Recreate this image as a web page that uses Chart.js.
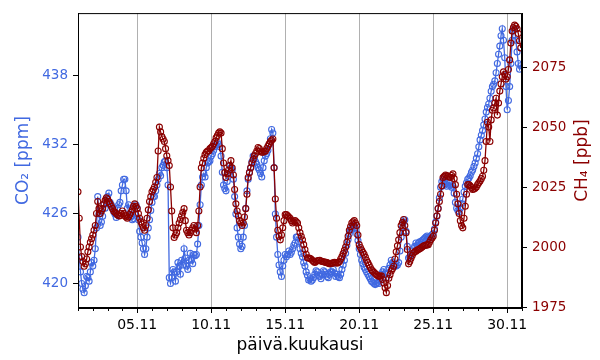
<!DOCTYPE html>
<html>
<head>
<meta charset="utf-8">
<script src="https://cdn.jsdelivr.net/npm/chart.js@4.4.1/dist/chart.umd.min.js"></script>
<style>
  body { margin: 0; background: #fff; }
</style>
</head>
<body>
<canvas id="gasChart" width="600" height="360"></canvas>
<script>
// Measurements every 2 hours, starting 01.11 00:00 (x in days of November)
const startDay = 1;
const stepHours = 2;

// CO2 [ppm]
const co2 = [
  424, 422.2, 421, 420, 419.5, 419.2, 419.8, 420.6, 420.5, 420.2,
  421, 421.8, 421.5, 422, 423, 424.8, 427.5, 426, 425, 425.3,
  425.8, 426.8, 426.5, 427, 427.5, 427.8, 427, 426.8, 426.5, 426.2,
  426, 425.7, 426.5, 426.8, 427, 428, 428.5, 429, 429, 428,
  426.5, 426.8, 426, 425.8, 425.5, 425.6, 426, 426.8, 426.5, 425.5,
  424.5, 424, 423.5, 423, 422.5, 423, 424, 424.8, 425.5, 426.3,
  427, 427.5, 427.5, 428, 428.5, 429, 429.5, 429.3, 430, 430.2,
  430.5, 430.6, 430, 428.5, 420.5, 420, 420.5, 421.2, 421, 420.2,
  421, 421.8, 421.5, 420.8, 422, 421.6, 423, 422.2, 421.5, 421.2,
  422, 422.6, 422, 421.7, 422.5, 422.4, 422.5, 423.4, 425, 426.8,
  428.5, 429.2, 429.5, 429.2, 430, 430.4, 430.5, 430.6, 431, 431.2,
  431.5, 431.8, 432, 432.2, 432, 431.8, 431, 429.6, 428.5, 428.2,
  428, 428.8, 429.5, 430.2, 430, 429.8, 429, 427.5, 426, 424.8,
  424, 423.4, 423, 423.2, 424, 425, 426.5, 428, 429, 429.6,
  430, 430.5, 431, 430.8, 430.5, 430.3, 430, 429.8, 429.5, 429.2,
  430, 430.6, 431, 431.2, 431.5, 432, 432.5, 433.3, 433, 430,
  426, 424, 422.5, 421.6, 421, 420.6, 421.5, 422, 422.5, 422.3,
  422.5, 422.8, 422.5, 422.7, 423, 423.3, 423.5, 424, 424, 423.6,
  423, 422.6, 422.3, 421.8, 421.5, 421, 420.7, 420.3, 420.4, 420.2,
  420.3, 420.5, 420.8, 421.1, 421, 420.7, 420.6, 420.4, 420.8, 421.1,
  421, 420.8, 420.6, 420.5, 420.8, 421, 421, 421.2, 420.9, 420.6,
  420.8, 420.6, 420.5, 420.8, 421.2, 421.6, 422, 422.6, 423.3, 423.8,
  424.3, 424.6, 424.8, 425, 425, 424.8, 424.3, 423.7, 423, 422.5,
  422, 421.7, 421.4, 421.2, 421, 420.8, 420.6, 420.4, 420.2, 420.1,
  420, 419.9, 420, 420.1, 420, 420.4, 420.8, 421, 421.2, 420.8,
  420.5, 420.9, 421.3, 421.6, 422, 421.8, 421.6, 421.5, 421.5, 421.6,
  421.8, 422.8, 424, 424.8, 425.3, 425.5, 424.5, 423.2, 422.2, 422.3,
  422.5, 422.8, 423, 423.2, 423.5, 423.3, 423.5, 423.6, 423.6, 423.7,
  423.8, 423.9, 424, 424.1, 424, 423.9, 424, 424.2, 424.3, 424.7,
  425.3, 425.8, 426.5, 427.4, 428.3, 428.8, 429, 428.8, 428.6, 428.4,
  428.5, 428.7, 428.5, 428.3, 428.4, 427.8, 427, 426.5, 426.3, 426.2,
  426.5, 426.9, 427.3, 427.9, 428.4, 428.7, 429, 429.1, 429.3, 429.6,
  429.8, 430.1, 430.4, 430.8, 431.2, 431.8, 432.4, 432.8, 433.2, 433.7,
  434.2, 434.8, 435.2, 435.5, 436, 436.6, 437, 437.2, 437.5, 438.2,
  439, 439.8, 440.5, 441.4, 442, 441, 439.5, 437, 435, 435.8,
  437, 439, 441, 441.8, 442, 441, 440, 439, 438.5, 438.8
];

// CH4 [ppb]
const ch4 = [
  2023, 2012, 2000, 1996, 1994, 1992, 1993, 1995, 1998, 2000,
  2002, 2003.5, 2005, 2007, 2009, 2014, 2019, 2016, 2014, 2015,
  2016, 2018, 2019.5, 2020.5, 2020, 2019, 2018, 2017, 2016, 2015,
  2014.5, 2014, 2013.5, 2013, 2013, 2014, 2015, 2014, 2013, 2012.5,
  2012, 2012.5, 2013.5, 2014.5, 2015.5, 2017, 2018, 2017, 2016, 2014,
  2012, 2010.5, 2009.5, 2008, 2007, 2009, 2012, 2015.5, 2019, 2021,
  2023, 2024, 2025, 2027, 2029, 2040, 2050, 2048, 2046, 2045,
  2044, 2041, 2038, 2036, 2034, 2025, 2015, 2008, 2004, 2005,
  2006, 2008, 2010, 2011.5, 2013, 2014.5, 2016, 2011, 2007, 2006,
  2005, 2006, 2007, 2008, 2009, 2007.5, 2006, 2009, 2015, 2025,
  2033, 2035, 2037, 2038.5, 2039.5, 2040, 2040, 2041, 2041.5, 2042,
  2043, 2044, 2045.5, 2046.5, 2047.5, 2048, 2047.5, 2041, 2035, 2031,
  2029, 2030.5, 2032, 2034, 2036, 2033, 2030, 2024, 2018, 2015,
  2013, 2011, 2010, 2009, 2010, 2012.5, 2016, 2022, 2029, 2031,
  2033, 2035, 2036.5, 2038, 2039, 2040, 2041.5, 2041, 2040, 2039.5,
  2039.5, 2039.8, 2040, 2041, 2042, 2043, 2044, 2044.5, 2045, 2033,
  2020, 2012, 2007, 2004.5, 2003, 2005, 2008, 2011, 2013.5, 2013.5,
  2013, 2012.5, 2012, 2011, 2010, 2010.5, 2011, 2010.5, 2010, 2008,
  2006, 2004.5, 2003, 2001, 1999, 1997, 1995.5, 1995.4, 1995.3, 1995,
  1994.5, 1994, 1993.6, 1994, 1994.3, 1994.4, 1994.5, 1994.2, 1994, 1993.9,
  1993.8, 1993.6, 1993.5, 1993.2, 1993, 1993.1, 1993.3, 1993.4, 1993.6, 1993.5,
  1993.3, 1993.6, 1994, 1995, 1996, 1997.3, 1998.6, 2000, 2002, 2004.5,
  2007, 2008.5, 2010, 2010.5, 2011, 2010, 2009, 2005, 2001, 1999.8,
  1998.8, 1997.8, 1997, 1995.8, 1994.5, 1993.5, 1992.5, 1991.5, 1990.5, 1990,
  1989.5, 1989, 1988.5, 1988, 1987.8, 1987.9, 1988, 1986.5, 1985, 1983,
  1981, 1984, 1987, 1988.5, 1990, 1991, 1992, 1995, 1998, 2000.5,
  2003, 2006, 2009, 2010.2, 2011.5, 2009, 2006, 1999, 1993, 1994,
  1995.3, 1996.5, 1997.5, 1998, 1998.3, 1998.7, 1999, 1999.3, 1999.6, 2000,
  2000.4, 2000.6, 2000.8, 2000.9, 2001, 2002, 2003, 2003.8, 2004.5, 2007,
  2010, 2013, 2016, 2019, 2022, 2025.5, 2029, 2029.5, 2030, 2029.8,
  2029.5, 2029.2, 2029, 2029.8, 2030.5, 2028.5, 2026, 2022, 2018, 2014,
  2011, 2009, 2008, 2012, 2017, 2022, 2026, 2026, 2025.5, 2024.8,
  2024, 2024.2, 2024.5, 2025, 2026, 2026.8, 2027.5, 2028.5, 2029.5, 2032,
  2036, 2044, 2052, 2050, 2044, 2053, 2057, 2058, 2060, 2062,
  2055, 2060, 2065, 2068, 2071, 2073, 2072, 2070, 2071, 2074,
  2078, 2085, 2090, 2091.5, 2092.5, 2092, 2091, 2089, 2086, 2083
];

// Axis ticks
const dayTicks = [5, 10, 15, 20, 25, 30];
const co2Ticks = [420, 426, 432, 438];
const ch4Ticks = [1975, 2000, 2025, 2050, 2075];

const co2Color = "#4169e1";
const ch4Color = "#8b0000";
const font = "'DejaVu Sans', sans-serif";

function toPoints(values) {
  return values.map((v, i) => ({ x: startDay + (i * stepHours) / 24, y: v }));
}

// Full box around the plot, short daily minor ticks, right axis title reading upwards
const frame = {
  id: "frame",
  afterDraw(chart) {
    const { ctx, chartArea: a } = chart;
    const xs = chart.scales.x;
    ctx.save();
    ctx.strokeStyle = "#000";
    ctx.lineWidth = 1;
    ctx.strokeRect(a.left + 0.5, a.top + 0.5, a.right - a.left - 1, a.bottom - a.top - 1);
    ctx.beginPath();
    for (let d = 1; d <= 31; d++) {
      if (dayTicks.includes(d)) continue;
      const px = Math.round(xs.getPixelForValue(d)) + 0.5;
      ctx.moveTo(px, a.bottom);
      ctx.lineTo(px, a.bottom + 3);
    }
    ctx.stroke();
    ctx.translate(583, (a.top + a.bottom) / 2);
    ctx.rotate(-Math.PI / 2);
    ctx.fillStyle = ch4Color;
    ctx.font = "17px " + font;
    ctx.textAlign = "center";
    ctx.textBaseline = "middle";
    ctx.fillText("CH₄ [ppb]", 0, 0);
    ctx.restore();
  },
};

const ctx = document.getElementById("gasChart").getContext("2d");
new Chart(ctx, {
  type: "line",
  data: {
    datasets: [
      {
        label: "CH4",
        data: toPoints(ch4),
        yAxisID: "yCh4",
        order: 0,
        borderColor: ch4Color,
        borderWidth: 1.3,
        pointRadius: 3,
        pointBorderWidth: 1.1,
        pointBackgroundColor: "transparent",
        pointBorderColor: ch4Color,
      },
      {
        label: "CO2",
        data: toPoints(co2),
        yAxisID: "yCo2",
        order: 1,
        borderColor: co2Color,
        borderWidth: 1.3,
        pointRadius: 3,
        pointBorderWidth: 1.1,
        pointBackgroundColor: "transparent",
        pointBorderColor: co2Color,
      },
    ],
  },
  options: {
    responsive: false,
    animation: false,
    devicePixelRatio: 1,
    layout: { padding: { top: 8, left: 0, right: 0, bottom: 0 } },
    plugins: { legend: { display: false }, tooltip: { enabled: false } },
    scales: {
      x: {
        type: "linear",
        min: 1,
        max: 31,
        afterBuildTicks: (scale) => { scale.ticks = dayTicks.map((v) => ({ value: v })); },
        afterFit: (scale) => { scale.height = 52; },
        ticks: {
          autoSkip: false,
          maxRotation: 0,
          padding: 4,
          color: "#000",
          font: { family: font, size: 14 },
          callback: (v) => String(v).padStart(2, "0") + ".11",
        },
        grid: { color: "#b0b0b0", tickColor: "#000", tickLength: 5, lineWidth: 1 },
        border: { display: true, color: "#000" },
        title: {
          display: true,
          text: "päivä.kuukausi",
          color: "#000",
          font: { family: font, size: 17 },
          padding: { top: 0, bottom: 4 },
        },
      },
      yCo2: {
        type: "linear",
        position: "left",
        min: 417.88,
        max: 443.35,
        afterBuildTicks: (scale) => { scale.ticks = co2Ticks.map((v) => ({ value: v })); },
        afterFit: (scale) => { scale.width = 78; },
        ticks: { color: co2Color, padding: 5, font: { family: font, size: 13.5 } },
        grid: { drawOnChartArea: false, tickColor: "#000", tickLength: 5 },
        border: { display: true, color: "#000" },
        title: {
          display: true,
          text: "CO₂ [ppm]",
          color: co2Color,
          font: { family: font, size: 17 },
          padding: { top: 13, bottom: 0 },
        },
      },
      yCh4: {
        type: "linear",
        position: "right",
        min: 1974.6,
        max: 2097.5,
        afterBuildTicks: (scale) => { scale.ticks = ch4Ticks.map((v) => ({ value: v })); },
        afterFit: (scale) => { scale.width = 78; },
        ticks: {
          color: ch4Color,
          padding: 5,
          font: { family: font, size: 13.5 },
          callback: (v) => String(v),
        },
        grid: { drawOnChartArea: false, tickColor: "#000", tickLength: 5 },
        border: { display: true, color: "#000" },
      },
    },
  },
  plugins: [frame],
});
</script>
</body>
</html>
